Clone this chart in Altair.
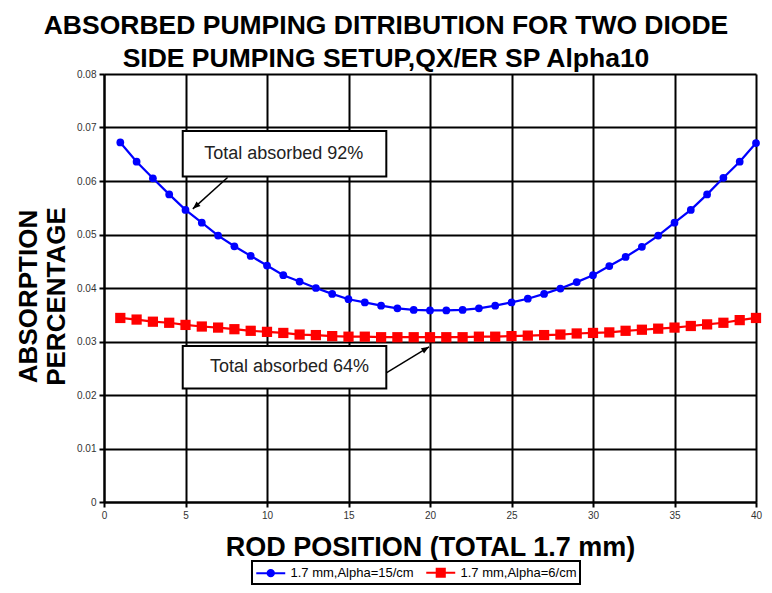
import altair as alt
import pandas as pd

FONT = "Liberation Sans"

# ---- data ----
positions = list(range(1, 41))
alpha15 = [0.0672, 0.0636, 0.0605, 0.0575, 0.0546, 0.0522, 0.0498, 0.0478, 0.0460, 0.0442,
           0.0424, 0.0412, 0.0400, 0.0389, 0.0379, 0.0373, 0.0367, 0.0362, 0.0359, 0.0358,
           0.0358, 0.0359, 0.0362, 0.0367, 0.0373, 0.0380, 0.0389, 0.0399, 0.0411, 0.0424,
           0.0441, 0.0458, 0.0477, 0.0498, 0.0522, 0.0546, 0.0575, 0.0606, 0.0636, 0.0671]
alpha6 = [0.0344, 0.0341, 0.0337, 0.0335, 0.0331, 0.0328, 0.0326, 0.0323, 0.0320, 0.0318,
          0.0316, 0.0313, 0.0312, 0.0310, 0.0309, 0.0309, 0.0308, 0.0308, 0.0308, 0.0308,
          0.0308, 0.0308, 0.0309, 0.0309, 0.0310, 0.0311, 0.0312, 0.0313, 0.0315, 0.0316,
          0.0317, 0.0320, 0.0322, 0.0324, 0.0326, 0.0329, 0.0332, 0.0335, 0.0340, 0.0344]
series_names = ["1.7 mm,Alpha=15/cm", "1.7 mm,Alpha=6/cm"]
series_colors = ["#0000ff", "#ff0000"]
x_ticks = [0, 5, 10, 15, 20, 25, 30, 35, 40]
y_ticks = [0, 0.01, 0.02, 0.03, 0.04, 0.05, 0.06, 0.07, 0.08]
title_lines = ["ABSORBED PUMPING DITRIBUTION FOR TWO DIODE", "SIDE PUMPING SETUP,QX/ER SP Alpha10"]
y_title_lines = ["ABSORPTION", "PERCENTAGE"]
x_title = "ROD POSITION (TOTAL 1.7 mm)"

# annotation callouts (data coordinates)
note_texts = ["Total absorbed 92%", "Total absorbed 64%"]
note_box_x = [4.83, 4.83]
note_box_x2 = [17.32, 17.32]
note_box_y = [0.06936, 0.02918]
note_box_y2 = [0.06083, 0.02120]
note_text_x = [11.03, 11.38]
note_text_y = [0.06507, 0.02516]
arrow_from_x = [7.58, 17.32]
arrow_from_y = [0.06065, 0.02415]
arrow_to_x = [5.45, 19.94]
arrow_to_y = [0.05480, 0.02900]
arrow_angle = [227.8, 58.7]

# ---- tables ----
df = pd.DataFrame({
    "x": positions * 2,
    "y": alpha15 + alpha6,
    "series": [series_names[0]] * len(positions) + [series_names[1]] * len(positions),
})
boxes = pd.DataFrame({"x": note_box_x, "x2": note_box_x2, "y": note_box_y, "y2": note_box_y2})
texts = pd.DataFrame({"x": note_text_x, "y": note_text_y, "t": note_texts})
arrows = pd.DataFrame({"x": arrow_from_x, "y": arrow_from_y, "x2": arrow_to_x, "y2": arrow_to_y})
heads = pd.DataFrame({"x": arrow_to_x, "y": arrow_to_y, "a": arrow_angle})

W, H = 652, 428

x_enc = alt.X("x:Q", scale=alt.Scale(domain=[0, 40], nice=False),
              axis=alt.Axis(values=x_ticks, title=x_title, labelFlush=False,
                            titleX=W / 2, titleY=53, titleBaseline="alphabetic",
                            titleAlign="center", titleFontSize=27))
y_enc = alt.Y("y:Q", scale=alt.Scale(domain=[0, 0.08], nice=False),
              axis=alt.Axis(values=y_ticks, format="~g", title=y_title_lines,
                            titleX=-68, titleY=222, titleBaseline="alphabetic",
                            titleAlign="center", titleAngle=270, titleFontSize=26,
                            titleLineHeight=28))

# series colour without a scale (so only the legend layer owns the colour scale)
series_color = alt.condition(alt.datum.series == series_names[0],
                             alt.value(series_colors[0]), alt.value(series_colors[1]))

lines = alt.Chart(df).mark_line(strokeWidth=2.2).encode(
    x=x_enc, y=y_enc, detail="series:N", color=series_color)

circles = alt.Chart(df).transform_filter(
    alt.datum.series == series_names[0]
).mark_point(filled=True, shape="circle", size=60, opacity=1,
             color=series_colors[0]).encode(x=x_enc, y=y_enc)

squares = alt.Chart(df).transform_filter(
    alt.datum.series == series_names[1]
).mark_point(filled=True, shape="square", size=105, opacity=1,
             color=series_colors[1]).encode(x=x_enc, y=y_enc)

# legend symbols: a line (twice the symbol box wide) with a stroked-solid marker
circle_path = ("M-2,0H2"
               "M0.44,0A0.44,0.44,0,1,1,-0.44,0A0.44,0.44,0,1,1,0.44,0Z"
               "M0.2,0A0.2,0.2,0,1,1,-0.2,0A0.2,0.2,0,1,1,0.2,0Z"
               "M0.05,0A0.05,0.05,0,1,1,-0.05,0A0.05,0.05,0,1,1,0.05,0Z")
square_path = ("M-2,0H2"
               "M-0.56,-0.56H0.56V0.56H-0.56Z"
               "M-0.3,-0.3H0.3V0.3H-0.3Z"
               "M-0.08,-0.08H0.08V0.08H-0.08Z")

legend = alt.Legend(title=None, orient="none", legendX=148, legendY=487,
                    direction="horizontal", strokeColor="black", padding=3,
                    columnPadding=8, symbolSize=210, symbolOffset=7.25,
                    symbolStrokeWidth=2, symbolOpacity=1, labelFont=FONT,
                    labelFontSize=13, labelColor="black", labelOffset=11.25)

legend_layer = alt.Chart(df).mark_point(filled=False, opacity=0, strokeWidth=2).encode(
    x=x_enc, y=y_enc,
    color=alt.Color("series:N", scale=alt.Scale(domain=series_names, range=series_colors),
                    legend=legend),
    shape=alt.Shape("series:N", scale=alt.Scale(domain=series_names,
                                                range=[circle_path, square_path]),
                    legend=legend),
)

box_layer = alt.Chart(boxes).mark_rect(fill="white", stroke="black", strokeWidth=2).encode(
    x=x_enc, x2="x2:Q", y=y_enc, y2="y2:Q")

text_layer = alt.Chart(texts).mark_text(font=FONT, fontSize=18, color="#222",
                                        baseline="middle", align="center").encode(
    x=x_enc, y=y_enc, text="t:N")

arrow_layer = alt.Chart(arrows).mark_rule(color="black", strokeWidth=1.5).encode(
    x=x_enc, x2="x2:Q", y=y_enc, y2="y2:Q")

head_layer = alt.Chart(heads).mark_point(
    filled=True, color="black", opacity=1, size=120,
    shape="M0,0L-0.55,1.4L0.55,1.4Z").encode(
    x=x_enc, y=y_enc, angle=alt.Angle("a:Q", scale=None))

chart = alt.layer(
    lines, circles, squares, legend_layer, box_layer, arrow_layer, head_layer, text_layer
).properties(
    width=W, height=H,
    autosize=alt.AutoSizeParams(type="none"),
    padding={"left": 96, "top": 66, "right": 8, "bottom": 83},
    title=alt.TitleParams(text=title_lines, font=FONT, fontSize=26.5, fontWeight="bold",
                          color="black", anchor="middle", dx=-44, dy=7, lineHeight=33),
).configure_view(stroke=None).configure_axis(
    grid=True, gridColor="black", gridWidth=2, gridOpacity=1,
    domainColor="black", domainWidth=2, tickColor="black", tickWidth=2, tickSize=5,
    labelFont=FONT, labelFontSize=10, labelColor="#333", labelPadding=3,
    titleFont=FONT, titleFontWeight="bold", titleColor="black",
).configure_legend(strokeWidth=2)

chart.save("out.html", embed_options={"renderer": "svg", "actions": False})
